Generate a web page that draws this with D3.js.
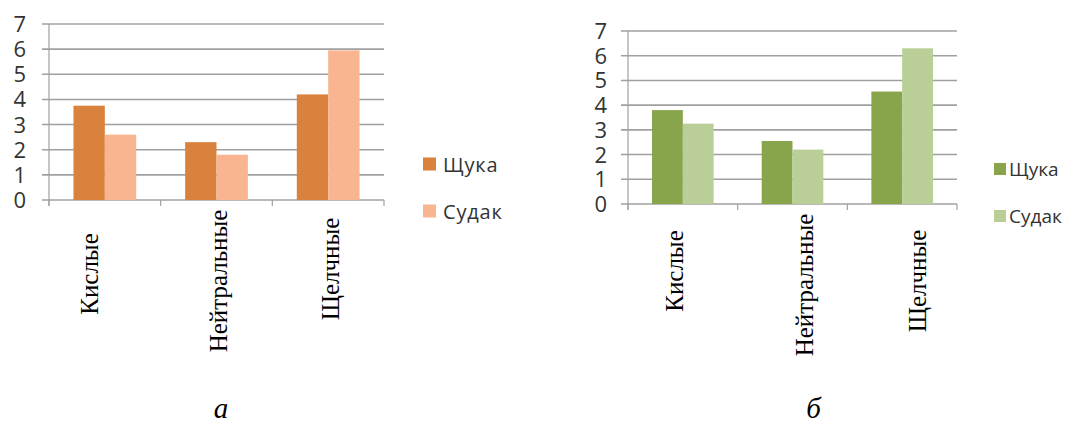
<!DOCTYPE html>
<html>
<head>
<meta charset="utf-8">
<script src="https://cdn.jsdelivr.net/npm/d3@7"></script>
<style>
  html, body { margin: 0; padding: 0; background: #fff; }
  svg { display: block; }
</style>
</head>
<body>
<svg id="fig" width="1065" height="425"></svg>
<script>
// Water types (x categories) and fish species (series)
const categories = ["Кислые", "Нейтральные", "Щелчные"];
const seriesNames = ["Щука", "Судак"];

// Panel а
const pikeA = [3.75, 2.3, 4.2];
const zanderA = [2.6, 1.8, 5.95];

// Panel б
const pikeB = [3.8, 2.55, 4.55];
const zanderB = [3.25, 2.2, 6.3];

const yTicks = [0, 1, 2, 3, 4, 5, 6, 7];
const panelLetters = ["а", "б"];

const svg = d3.select("#fig");

// Geometry of each panel
const panels = [
  {
    letter: panelLetters[0],
    values: [pikeA, zanderA],
    colors: ["#d9823e", "#f8b590"],
    x0: 49, x1: 384, y0: 200, y1: 24,
    gridLeft: 42, tickLabelX: 26,
    legendX: 423, legendY: [164, 211], legendSq: 13, legendGap: 7,
    legendSize: 20, legendSpacing: 0.8,
    labelDx: [-15, 1.5, 2], labelCy: [274, 281, 269],
    letterX: 221
  },
  {
    letter: panelLetters[1],
    values: [pikeB, zanderB],
    colors: ["#88a54c", "#b9cf97"],
    x0: 628, x1: 957, y0: 204, y1: 31,
    gridLeft: 621, tickLabelX: 607,
    legendX: 994, legendY: [169, 216], legendSq: 12, legendGap: 3,
    legendSize: 19, legendSpacing: 0,
    labelDx: [-8.5, 11.5, 15], labelCy: [271, 285, 281],
    letterX: 813.5
  }
];

panels.forEach(p => {
  const g = svg.append("g");

  const x = d3.scaleBand().domain(categories).range([p.x0, p.x1]).padding(0);
  const xs = d3.scaleBand().domain(seriesNames).range([0, x.bandwidth()])
    .paddingInner(0).paddingOuter(0.78);
  const y = d3.scaleLinear().domain([0, 7]).range([p.y0, p.y1]);

  // horizontal gridlines
  g.append("g").selectAll("line").data(yTicks).join("line")
    .attr("x1", p.gridLeft).attr("x2", p.x1)
    .attr("y1", d => y(d)).attr("y2", d => y(d))
    .attr("stroke", "#a0a0a0").attr("stroke-width", 1.6);

  // vertical axis line
  g.append("line")
    .attr("x1", p.x0).attr("x2", p.x0)
    .attr("y1", y(7)).attr("y2", y(0) + 6)
    .attr("stroke", "#a0a0a0").attr("stroke-width", 1.2);

  // category boundary ticks
  const bounds = categories.map(c => x(c)).concat([p.x1]);
  g.append("g").selectAll("line").data(bounds).join("line")
    .attr("x1", d => d).attr("x2", d => d)
    .attr("y1", y(0)).attr("y2", y(0) + 6)
    .attr("stroke", "#a0a0a0").attr("stroke-width", 1.2);

  // y tick labels
  g.append("g").selectAll("text").data(yTicks).join("text")
    .attr("x", p.tickLabelX).attr("y", d => y(d) + 8)
    .attr("text-anchor", "end")
    .attr("font-family", "'Open Sans', sans-serif").attr("font-size", 22)
    .attr("fill", "#333").text(d => d);

  // bars
  const rows = [];
  categories.forEach((c, i) => {
    seriesNames.forEach((s, j) => rows.push({ c, s, j, v: p.values[j][i] }));
  });
  g.append("g").selectAll("rect").data(rows).join("rect")
    .attr("x", d => x(d.c) + xs(d.s))
    .attr("y", d => y(d.v))
    .attr("width", xs.bandwidth())
    .attr("height", d => y(0) - y(d.v))
    .attr("fill", d => p.colors[d.j]);

  // rotated category labels
  g.append("g").selectAll("text").data(categories).join("text")
    .attr("transform", (d, i) =>
      `translate(${x(d) + x.bandwidth() / 2 + p.labelDx[i]},${p.labelCy[i]}) rotate(-90)`)
    .attr("text-anchor", "middle").attr("dominant-baseline", "central")
    .attr("font-family", "'Liberation Serif', 'Times New Roman', serif")
    .attr("font-size", 25).attr("fill", "#000").text(d => d);

  // legend
  const lg = g.append("g").selectAll("g").data(seriesNames).join("g")
    .attr("transform", (d, i) => `translate(${p.legendX},${p.legendY[i]})`);
  lg.append("rect")
    .attr("x", 0).attr("y", -p.legendSq / 2)
    .attr("width", p.legendSq).attr("height", p.legendSq)
    .attr("fill", (d, i) => p.colors[i]);
  lg.append("text")
    .attr("x", p.legendSq + p.legendGap).attr("y", 0)
    .attr("dominant-baseline", "central")
    .attr("font-family", "'Open Sans', sans-serif").attr("font-size", p.legendSize)
    .attr("letter-spacing", p.legendSpacing)
    .attr("fill", "#333").text(d => d);

  // panel letter
  g.append("text")
    .attr("x", p.letterX).attr("y", 418)
    .attr("text-anchor", "middle")
    .attr("font-family", "'Liberation Serif', 'Times New Roman', serif")
    .attr("font-style", "italic").attr("font-size", 29)
    .attr("fill", "#000").text(p.letter);
});
</script>
</body>
</html>
